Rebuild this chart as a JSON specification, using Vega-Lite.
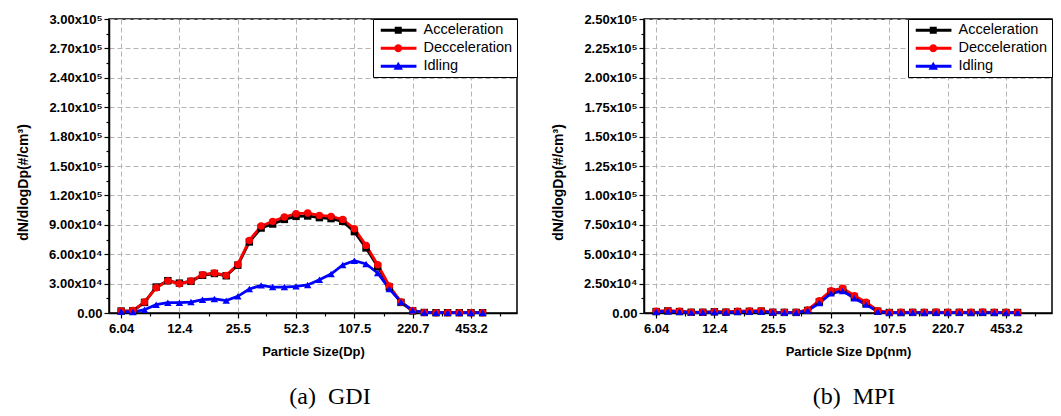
{
  "$schema": "https://vega.github.io/schema/vega-lite/v6.json",
  "background": "white",
  "padding": {"left": 15, "top": 12, "right": 5, "bottom": 5},
  "config": {
    "view": {"stroke": "black", "strokeWidth": 1.5},
    "axis": {
      "labelFont": "Liberation Sans", "labelFontWeight": "bold", "labelFontSize": 13, "labelColor": "black",
      "titleFont": "Liberation Sans", "titleFontWeight": "bold", "titleColor": "black",
      "tickColor": "black", "tickWidth": 1.2, "domainColor": "black", "domainWidth": 1.5,
      "gridColor": "#b4b4b4", "gridDash": [5, 3], "gridWidth": 1,
      "labelOverlap": false, "labelFlush": false
    },
    "legend": {
      "title": null, "orient": "top-right", "offset": 0, "padding": 4, "fillColor": "white", "strokeColor": "black",
      "labelFont": "Liberation Sans", "labelFontSize": 14.5, "labelColor": "black", "labelOffset": 32, "rowPadding": 3,
      "symbolSize": 49, "symbolStrokeWidth": 0, "symbolOpacity": 1
    }
  },
  "spacing": 31,
  "resolve": {"scale": {"color": "independent", "shape": "independent"}, "legend": {"color": "independent", "shape": "independent"}},
  "data": {"values": [
{"panel":"GDI","series":"Acceleration","dp":6.04,"value":2000},{"panel":"GDI","series":"Acceleration","dp":6.98,"value":2200},{"panel":"GDI","series":"Acceleration","dp":8.06,"value":10800},{"panel":"GDI","series":"Acceleration","dp":9.31,"value":26500},{"panel":"GDI","series":"Acceleration","dp":10.75,"value":33000},{"panel":"GDI","series":"Acceleration","dp":12.4,"value":30500},{"panel":"GDI","series":"Acceleration","dp":14.3,"value":32300},{"panel":"GDI","series":"Acceleration","dp":16.5,"value":38500},{"panel":"GDI","series":"Acceleration","dp":19.1,"value":40300},{"panel":"GDI","series":"Acceleration","dp":22.1,"value":38000},{"panel":"GDI","series":"Acceleration","dp":25.5,"value":48800},{"panel":"GDI","series":"Acceleration","dp":29.4,"value":72500},{"panel":"GDI","series":"Acceleration","dp":34.0,"value":86700},{"panel":"GDI","series":"Acceleration","dp":39.2,"value":90800},{"panel":"GDI","series":"Acceleration","dp":45.3,"value":95500},{"panel":"GDI","series":"Acceleration","dp":52.3,"value":98600},{"panel":"GDI","series":"Acceleration","dp":60.4,"value":99000},{"panel":"GDI","series":"Acceleration","dp":69.8,"value":97300},{"panel":"GDI","series":"Acceleration","dp":80.6,"value":96300},{"panel":"GDI","series":"Acceleration","dp":93.1,"value":93500},{"panel":"GDI","series":"Acceleration","dp":107.5,"value":83000},{"panel":"GDI","series":"Acceleration","dp":124.1,"value":66400},{"panel":"GDI","series":"Acceleration","dp":143.3,"value":47500},{"panel":"GDI","series":"Acceleration","dp":165.5,"value":26500},{"panel":"GDI","series":"Acceleration","dp":191.1,"value":10800},{"panel":"GDI","series":"Acceleration","dp":220.7,"value":2200},{"panel":"GDI","series":"Acceleration","dp":254.8,"value":500},{"panel":"GDI","series":"Acceleration","dp":294.3,"value":300},{"panel":"GDI","series":"Acceleration","dp":339.8,"value":300},{"panel":"GDI","series":"Acceleration","dp":392.4,"value":300},{"panel":"GDI","series":"Acceleration","dp":453.2,"value":300},{"panel":"GDI","series":"Acceleration","dp":523.3,"value":300},
{"panel":"GDI","series":"Decceleration","dp":6.04,"value":2200},{"panel":"GDI","series":"Decceleration","dp":6.98,"value":2500},{"panel":"GDI","series":"Decceleration","dp":8.06,"value":11200},{"panel":"GDI","series":"Decceleration","dp":9.31,"value":25800},{"panel":"GDI","series":"Decceleration","dp":10.75,"value":32800},{"panel":"GDI","series":"Decceleration","dp":12.4,"value":29900},{"panel":"GDI","series":"Decceleration","dp":14.3,"value":32600},{"panel":"GDI","series":"Decceleration","dp":16.5,"value":39100},{"panel":"GDI","series":"Decceleration","dp":19.1,"value":40800},{"panel":"GDI","series":"Decceleration","dp":22.1,"value":38400},{"panel":"GDI","series":"Decceleration","dp":25.5,"value":49600},{"panel":"GDI","series":"Decceleration","dp":29.4,"value":74100},{"panel":"GDI","series":"Decceleration","dp":34.0,"value":88700},{"panel":"GDI","series":"Decceleration","dp":39.2,"value":93500},{"panel":"GDI","series":"Decceleration","dp":45.3,"value":97900},{"panel":"GDI","series":"Decceleration","dp":52.3,"value":101300},{"panel":"GDI","series":"Decceleration","dp":60.4,"value":102000},{"panel":"GDI","series":"Decceleration","dp":69.8,"value":99600},{"panel":"GDI","series":"Decceleration","dp":80.6,"value":98600},{"panel":"GDI","series":"Decceleration","dp":93.1,"value":95500},{"panel":"GDI","series":"Decceleration","dp":107.5,"value":86000},{"panel":"GDI","series":"Decceleration","dp":124.1,"value":69000},{"panel":"GDI","series":"Decceleration","dp":143.3,"value":49300},{"panel":"GDI","series":"Decceleration","dp":165.5,"value":27600},{"panel":"GDI","series":"Decceleration","dp":191.1,"value":11200},{"panel":"GDI","series":"Decceleration","dp":220.7,"value":2500},{"panel":"GDI","series":"Decceleration","dp":254.8,"value":500},{"panel":"GDI","series":"Decceleration","dp":294.3,"value":300},{"panel":"GDI","series":"Decceleration","dp":339.8,"value":300},{"panel":"GDI","series":"Decceleration","dp":392.4,"value":300},{"panel":"GDI","series":"Decceleration","dp":453.2,"value":300},{"panel":"GDI","series":"Decceleration","dp":523.3,"value":300},
{"panel":"GDI","series":"Idling","dp":6.04,"value":1500},{"panel":"GDI","series":"Idling","dp":6.98,"value":1000},{"panel":"GDI","series":"Idling","dp":8.06,"value":3400},{"panel":"GDI","series":"Idling","dp":9.31,"value":8500},{"panel":"GDI","series":"Idling","dp":10.75,"value":10500},{"panel":"GDI","series":"Idling","dp":12.4,"value":10500},{"panel":"GDI","series":"Idling","dp":14.3,"value":11200},{"panel":"GDI","series":"Idling","dp":16.5,"value":13600},{"panel":"GDI","series":"Idling","dp":19.1,"value":14300},{"panel":"GDI","series":"Idling","dp":22.1,"value":12600},{"panel":"GDI","series":"Idling","dp":25.5,"value":17000},{"panel":"GDI","series":"Idling","dp":29.4,"value":24500},{"panel":"GDI","series":"Idling","dp":34.0,"value":28200},{"panel":"GDI","series":"Idling","dp":39.2,"value":26500},{"panel":"GDI","series":"Idling","dp":45.3,"value":26500},{"panel":"GDI","series":"Idling","dp":52.3,"value":27200},{"panel":"GDI","series":"Idling","dp":60.4,"value":28600},{"panel":"GDI","series":"Idling","dp":69.8,"value":34000},{"panel":"GDI","series":"Idling","dp":80.6,"value":39800},{"panel":"GDI","series":"Idling","dp":93.1,"value":49000},{"panel":"GDI","series":"Idling","dp":107.5,"value":53400},{"panel":"GDI","series":"Idling","dp":124.1,"value":50000},{"panel":"GDI","series":"Idling","dp":143.3,"value":40800},{"panel":"GDI","series":"Idling","dp":165.5,"value":24500},{"panel":"GDI","series":"Idling","dp":191.1,"value":11200},{"panel":"GDI","series":"Idling","dp":220.7,"value":2700},{"panel":"GDI","series":"Idling","dp":254.8,"value":500},{"panel":"GDI","series":"Idling","dp":294.3,"value":300},{"panel":"GDI","series":"Idling","dp":339.8,"value":300},{"panel":"GDI","series":"Idling","dp":392.4,"value":300},{"panel":"GDI","series":"Idling","dp":453.2,"value":300},{"panel":"GDI","series":"Idling","dp":523.3,"value":300},
{"panel":"MPI","series":"Acceleration","dp":6.04,"value":1200},{"panel":"MPI","series":"Acceleration","dp":6.98,"value":1800},{"panel":"MPI","series":"Acceleration","dp":8.06,"value":1200},{"panel":"MPI","series":"Acceleration","dp":9.31,"value":600},{"panel":"MPI","series":"Acceleration","dp":10.75,"value":600},{"panel":"MPI","series":"Acceleration","dp":12.4,"value":1000},{"panel":"MPI","series":"Acceleration","dp":14.3,"value":700},{"panel":"MPI","series":"Acceleration","dp":16.5,"value":1200},{"panel":"MPI","series":"Acceleration","dp":19.1,"value":1400},{"panel":"MPI","series":"Acceleration","dp":22.1,"value":1600},{"panel":"MPI","series":"Acceleration","dp":25.5,"value":600},{"panel":"MPI","series":"Acceleration","dp":29.4,"value":500},{"panel":"MPI","series":"Acceleration","dp":34.0,"value":500},{"panel":"MPI","series":"Acceleration","dp":39.2,"value":2200},{"panel":"MPI","series":"Acceleration","dp":45.3,"value":9500},{"panel":"MPI","series":"Acceleration","dp":52.3,"value":18000},{"panel":"MPI","series":"Acceleration","dp":60.4,"value":20000},{"panel":"MPI","series":"Acceleration","dp":69.8,"value":13500},{"panel":"MPI","series":"Acceleration","dp":80.6,"value":8000},{"panel":"MPI","series":"Acceleration","dp":93.1,"value":1500},{"panel":"MPI","series":"Acceleration","dp":107.5,"value":400},{"panel":"MPI","series":"Acceleration","dp":124.1,"value":400},{"panel":"MPI","series":"Acceleration","dp":143.3,"value":500},{"panel":"MPI","series":"Acceleration","dp":165.5,"value":400},{"panel":"MPI","series":"Acceleration","dp":191.1,"value":500},{"panel":"MPI","series":"Acceleration","dp":220.7,"value":400},{"panel":"MPI","series":"Acceleration","dp":254.8,"value":500},{"panel":"MPI","series":"Acceleration","dp":294.3,"value":400},{"panel":"MPI","series":"Acceleration","dp":339.8,"value":500},{"panel":"MPI","series":"Acceleration","dp":392.4,"value":400},{"panel":"MPI","series":"Acceleration","dp":453.2,"value":400},{"panel":"MPI","series":"Acceleration","dp":523.3,"value":400},
{"panel":"MPI","series":"Decceleration","dp":6.04,"value":1500},{"panel":"MPI","series":"Decceleration","dp":6.98,"value":2000},{"panel":"MPI","series":"Decceleration","dp":8.06,"value":1500},{"panel":"MPI","series":"Decceleration","dp":9.31,"value":700},{"panel":"MPI","series":"Decceleration","dp":10.75,"value":700},{"panel":"MPI","series":"Decceleration","dp":12.4,"value":1200},{"panel":"MPI","series":"Decceleration","dp":14.3,"value":900},{"panel":"MPI","series":"Decceleration","dp":16.5,"value":1500},{"panel":"MPI","series":"Decceleration","dp":19.1,"value":1800},{"panel":"MPI","series":"Decceleration","dp":22.1,"value":2000},{"panel":"MPI","series":"Decceleration","dp":25.5,"value":700},{"panel":"MPI","series":"Decceleration","dp":29.4,"value":600},{"panel":"MPI","series":"Decceleration","dp":34.0,"value":600},{"panel":"MPI","series":"Decceleration","dp":39.2,"value":2600},{"panel":"MPI","series":"Decceleration","dp":45.3,"value":10500},{"panel":"MPI","series":"Decceleration","dp":52.3,"value":19000},{"panel":"MPI","series":"Decceleration","dp":60.4,"value":21000},{"panel":"MPI","series":"Decceleration","dp":69.8,"value":14700},{"panel":"MPI","series":"Decceleration","dp":80.6,"value":9100},{"panel":"MPI","series":"Decceleration","dp":93.1,"value":2000},{"panel":"MPI","series":"Decceleration","dp":107.5,"value":500},{"panel":"MPI","series":"Decceleration","dp":124.1,"value":600},{"panel":"MPI","series":"Decceleration","dp":143.3,"value":700},{"panel":"MPI","series":"Decceleration","dp":165.5,"value":600},{"panel":"MPI","series":"Decceleration","dp":191.1,"value":800},{"panel":"MPI","series":"Decceleration","dp":220.7,"value":600},{"panel":"MPI","series":"Decceleration","dp":254.8,"value":700},{"panel":"MPI","series":"Decceleration","dp":294.3,"value":600},{"panel":"MPI","series":"Decceleration","dp":339.8,"value":800},{"panel":"MPI","series":"Decceleration","dp":392.4,"value":600},{"panel":"MPI","series":"Decceleration","dp":453.2,"value":600},{"panel":"MPI","series":"Decceleration","dp":523.3,"value":500},
{"panel":"MPI","series":"Idling","dp":6.04,"value":1000},{"panel":"MPI","series":"Idling","dp":6.98,"value":1500},{"panel":"MPI","series":"Idling","dp":8.06,"value":1000},{"panel":"MPI","series":"Idling","dp":9.31,"value":500},{"panel":"MPI","series":"Idling","dp":10.75,"value":500},{"panel":"MPI","series":"Idling","dp":12.4,"value":800},{"panel":"MPI","series":"Idling","dp":14.3,"value":600},{"panel":"MPI","series":"Idling","dp":16.5,"value":1000},{"panel":"MPI","series":"Idling","dp":19.1,"value":1200},{"panel":"MPI","series":"Idling","dp":22.1,"value":1300},{"panel":"MPI","series":"Idling","dp":25.5,"value":500},{"panel":"MPI","series":"Idling","dp":29.4,"value":400},{"panel":"MPI","series":"Idling","dp":34.0,"value":400},{"panel":"MPI","series":"Idling","dp":39.2,"value":2000},{"panel":"MPI","series":"Idling","dp":45.3,"value":8500},{"panel":"MPI","series":"Idling","dp":52.3,"value":16700},{"panel":"MPI","series":"Idling","dp":60.4,"value":18700},{"panel":"MPI","series":"Idling","dp":69.8,"value":12500},{"panel":"MPI","series":"Idling","dp":80.6,"value":7100},{"panel":"MPI","series":"Idling","dp":93.1,"value":1200},{"panel":"MPI","series":"Idling","dp":107.5,"value":300},{"panel":"MPI","series":"Idling","dp":124.1,"value":300},{"panel":"MPI","series":"Idling","dp":143.3,"value":300},{"panel":"MPI","series":"Idling","dp":165.5,"value":300},{"panel":"MPI","series":"Idling","dp":191.1,"value":300},{"panel":"MPI","series":"Idling","dp":220.7,"value":300},{"panel":"MPI","series":"Idling","dp":254.8,"value":300},{"panel":"MPI","series":"Idling","dp":294.3,"value":300},{"panel":"MPI","series":"Idling","dp":339.8,"value":300},{"panel":"MPI","series":"Idling","dp":392.4,"value":300},{"panel":"MPI","series":"Idling","dp":453.2,"value":300},{"panel":"MPI","series":"Idling","dp":523.3,"value":300}
  ]},
  "hconcat": [
    {
      "width": 408, "height": 294,
      "title": {"text": "(a)\u00a0 GDI", "orient": "bottom", "anchor": "middle", "font": "Liberation Serif", "fontSize": 24, "fontWeight": "normal", "color": "black", "offset": 27, "dx": 17},
      "transform": [{"filter": "datum.panel === 'GDI'"}],
      "resolve": {"axis": {"x": "independent", "y": "independent"}, "scale": {"shape": "independent", "color": "independent"}},
      "layer": [
        {
          "mark": {"type": "line", "strokeWidth": 2.8},
          "encoding": {
            "x": {"field": "dp", "type": "quantitative", "scale": {"type": "log", "domain": [5.2, 800], "nice": false},
              "axis": {"values": [6.04, 12.4, 25.5, 52.3, 107.5, 220.7, 453.2], "labelExpr": "'' + datum.value", "title": "Particle Size(Dp)", "titleFontSize": 13, "titlePadding": 10, "labelPadding": 4, "tickSize": 5, "grid": true}},
            "y": {"field": "value", "type": "quantitative", "scale": {"domain": [0, 300000], "nice": false},
              "axis": {"values": [0, 30000, 60000, 90000, 120000, 150000, 180000, 210000, 240000, 270000, 300000], "labelExpr": "datum.value == 0 ? '0.00' : format(datum.value / pow(10, floor(log(datum.value) / LN10 + 0.000001)), '.2f') + 'x10' + (floor(log(datum.value) / LN10 + 0.000001) == 5 ? '⁵' : '⁴')", "title": "dN/dlogDp(#/cm³)", "titleFontSize": 14, "titleX": -79, "titleY": 163, "tickSize": 5, "labelPadding": 2, "grid": true}},
            "color": {"field": "series", "type": "nominal", "scale": {"domain": ["Acceleration", "Decceleration", "Idling"], "range": ["#000000", "#ff0000", "#0000ff"]}, "legend": null}
          }
        },
        {
          "mark": {"type": "point", "filled": true, "size": 55, "opacity": 1},
          "encoding": {
            "x": {"field": "dp", "type": "quantitative", "axis": {"orient": "bottom", "values": [8.65, 17.78, 36.1, 75.0, 154.0, 316.3, 649.5], "labels": false, "grid": false, "domain": false, "tickSize": 3, "title": null}},
            "y": {"field": "value", "type": "quantitative", "axis": {"orient": "left", "values": [15000, 45000, 75000, 105000, 135000, 165000, 195000, 225000, 255000, 285000], "labels": false, "grid": false, "domain": false, "tickSize": 3, "title": null}},
            "color": {"field": "series", "type": "nominal", "scale": {"domain": ["Acceleration", "Decceleration", "Idling"], "range": ["#000000", "#ff0000", "#0000ff"]}, "legend": null},
            "shape": {"field": "series", "type": "nominal", "scale": {"domain": ["Acceleration", "Decceleration", "Idling"], "range": ["square", "circle", "triangle-up"]}, "legend": null}
          }
        },
        {
          "mark": {"type": "point", "filled": true, "size": 49, "opacity": 0},
          "encoding": {
            "x": {"field": "dp", "type": "quantitative", "axis": null},
            "y": {"field": "value", "type": "quantitative", "axis": null},
            "color": {"field": "series", "type": "nominal", "scale": {"domain": ["Acceleration", "Decceleration", "Idling"], "range": ["#000000", "#ff0000", "#0000ff"]}, "legend": {}},
            "shape": {"field": "series", "type": "nominal", "scale": {"domain": ["Acceleration", "Decceleration", "Idling"], "range": ["M-1,-0.43H9.2V0.43H-1Z M3,-1H5V1H3Z", "M-1,-0.43H9.2V0.43H-1Z M2.85,0A1.15,1.15 0 1,1 5.15,0A1.15,1.15 0 1,1 2.85,0Z", "M-1,-0.43H9.2V0.43H-1Z M4,-1.3L5.35,1L2.65,1Z"]}, "legend": {}}
          }
        }
      ]
    },
    {
      "width": 408, "height": 294,
      "title": {"text": "(b)\u00a0 MPI", "orient": "bottom", "anchor": "middle", "font": "Liberation Serif", "fontSize": 24, "fontWeight": "normal", "color": "black", "offset": 27, "dx": 6},
      "transform": [{"filter": "datum.panel === 'MPI'"}],
      "resolve": {"axis": {"x": "independent", "y": "independent"}, "scale": {"shape": "independent", "color": "independent"}},
      "layer": [
        {
          "mark": {"type": "line", "strokeWidth": 2.8},
          "encoding": {
            "x": {"field": "dp", "type": "quantitative", "scale": {"type": "log", "domain": [5.2, 800], "nice": false},
              "axis": {"values": [6.04, 12.4, 25.5, 52.3, 107.5, 220.7, 453.2], "labelExpr": "'' + datum.value", "title": "Particle Size Dp(nm)", "titleFontSize": 13, "titlePadding": 10, "labelPadding": 4, "tickSize": 5, "grid": true}},
            "y": {"field": "value", "type": "quantitative", "scale": {"domain": [0, 250000], "nice": false},
              "axis": {"values": [0, 25000, 50000, 75000, 100000, 125000, 150000, 175000, 200000, 225000, 250000], "labelExpr": "datum.value == 0 ? '0.00' : format(datum.value / pow(10, floor(log(datum.value) / LN10 + 0.000001)), '.2f') + 'x10' + (floor(log(datum.value) / LN10 + 0.000001) == 5 ? '⁵' : '⁴')", "title": "dN/dlogDp(#/cm³)", "titleFontSize": 14, "titleX": -79, "titleY": 163, "tickSize": 5, "labelPadding": 2, "grid": true}},
            "color": {"field": "series", "type": "nominal", "scale": {"domain": ["Acceleration", "Decceleration", "Idling"], "range": ["#000000", "#ff0000", "#0000ff"]}, "legend": null}
          }
        },
        {
          "mark": {"type": "point", "filled": true, "size": 55, "opacity": 1},
          "encoding": {
            "x": {"field": "dp", "type": "quantitative", "axis": {"orient": "bottom", "values": [8.65, 17.78, 36.1, 75.0, 154.0, 316.3, 649.5], "labels": false, "grid": false, "domain": false, "tickSize": 3, "title": null}},
            "y": {"field": "value", "type": "quantitative", "axis": {"orient": "left", "values": [12500, 37500, 62500, 87500, 112500, 137500, 162500, 187500, 212500, 237500], "labels": false, "grid": false, "domain": false, "tickSize": 3, "title": null}},
            "color": {"field": "series", "type": "nominal", "scale": {"domain": ["Acceleration", "Decceleration", "Idling"], "range": ["#000000", "#ff0000", "#0000ff"]}, "legend": null},
            "shape": {"field": "series", "type": "nominal", "scale": {"domain": ["Acceleration", "Decceleration", "Idling"], "range": ["square", "circle", "triangle-up"]}, "legend": null}
          }
        },
        {
          "mark": {"type": "point", "filled": true, "size": 49, "opacity": 0},
          "encoding": {
            "x": {"field": "dp", "type": "quantitative", "axis": null},
            "y": {"field": "value", "type": "quantitative", "axis": null},
            "color": {"field": "series", "type": "nominal", "scale": {"domain": ["Acceleration", "Decceleration", "Idling"], "range": ["#000000", "#ff0000", "#0000ff"]}, "legend": {}},
            "shape": {"field": "series", "type": "nominal", "scale": {"domain": ["Acceleration", "Decceleration", "Idling"], "range": ["M-1,-0.43H9.2V0.43H-1Z M3,-1H5V1H3Z", "M-1,-0.43H9.2V0.43H-1Z M2.85,0A1.15,1.15 0 1,1 5.15,0A1.15,1.15 0 1,1 2.85,0Z", "M-1,-0.43H9.2V0.43H-1Z M4,-1.3L5.35,1L2.65,1Z"]}, "legend": {}}
          }
        }
      ]
    }
  ]
}
